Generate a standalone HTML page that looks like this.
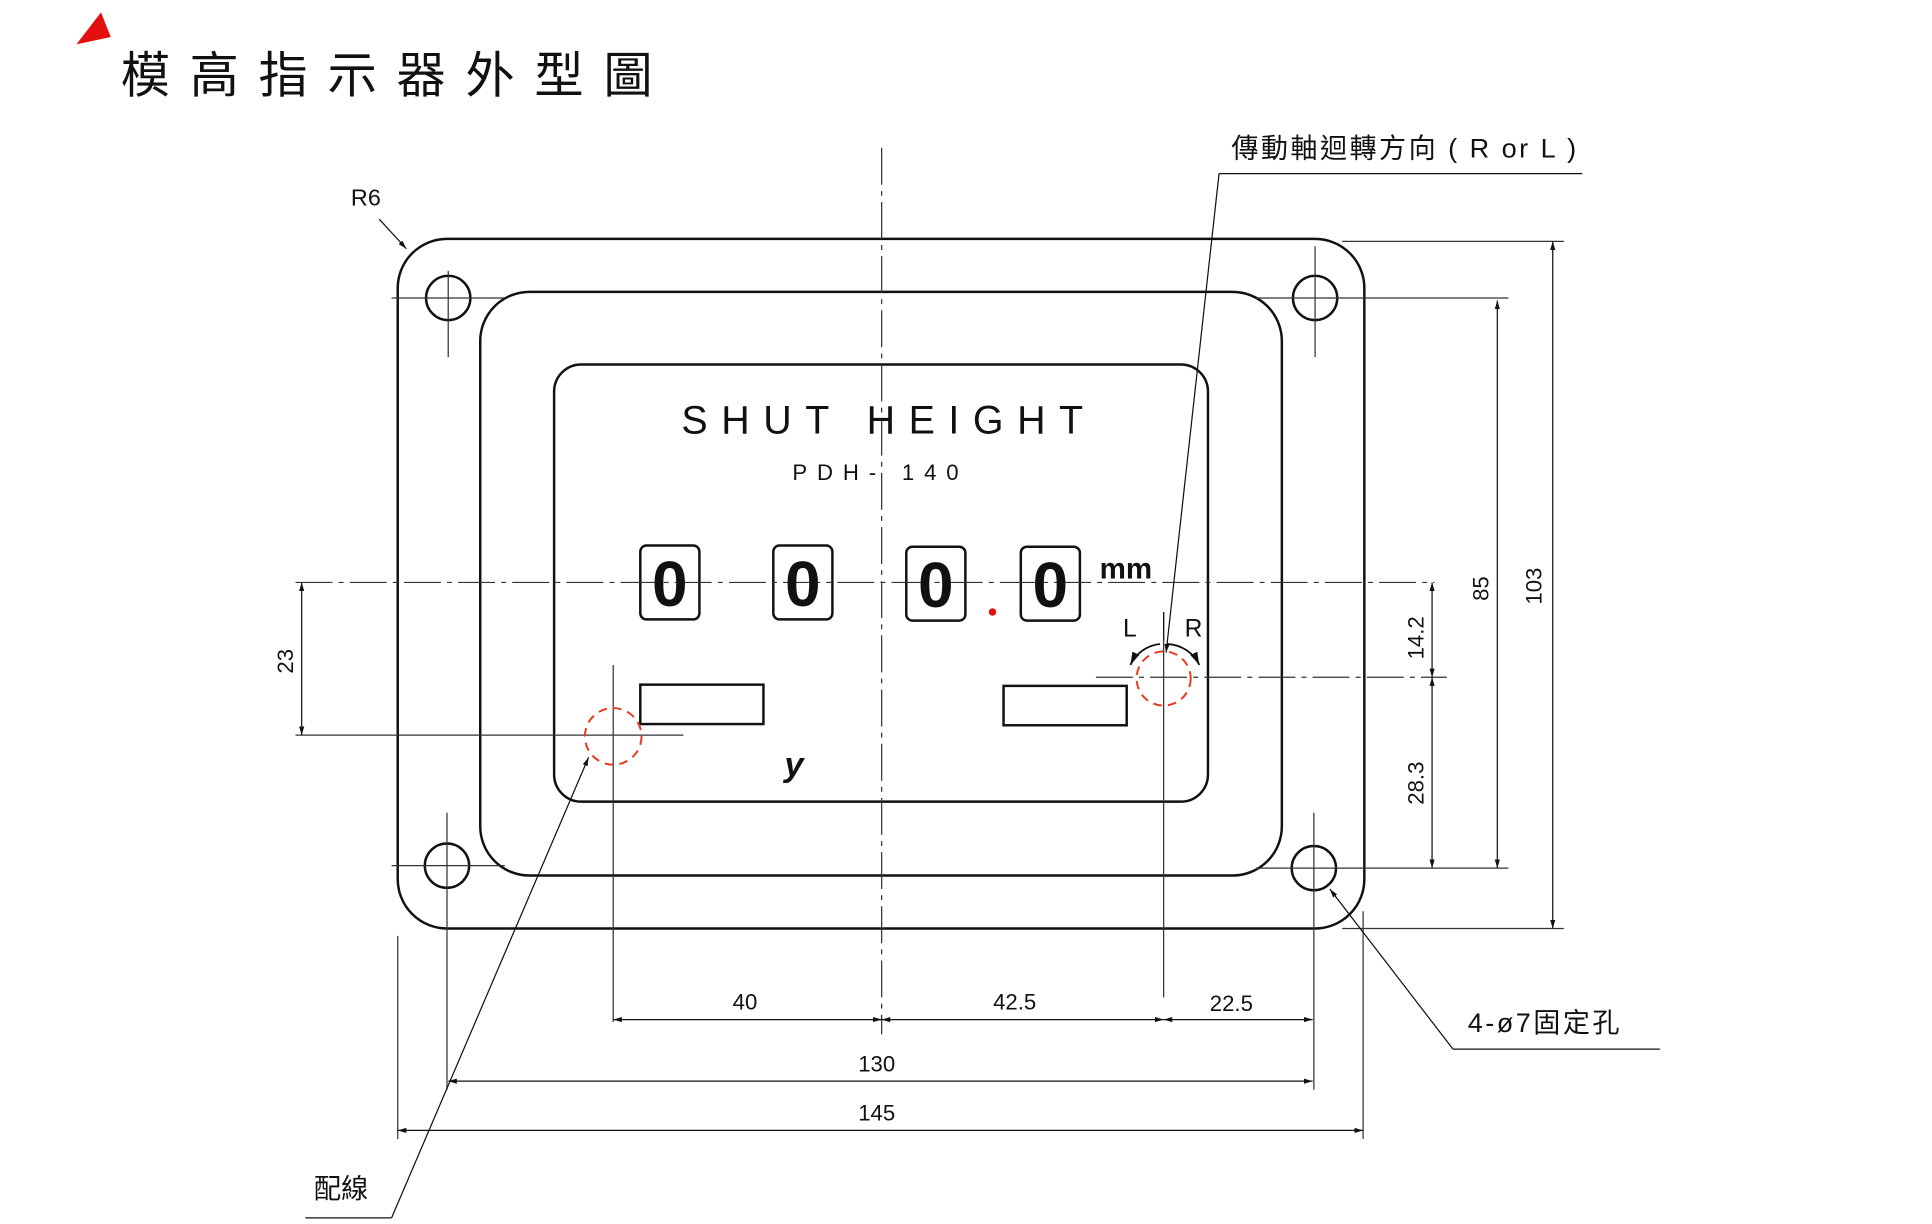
<!DOCTYPE html>
<html><head><meta charset="utf-8"><style>
html,body{margin:0;padding:0;background:#fff;}
svg{display:block;}
text{font-family:"Liberation Sans","Noto Sans CJK TC",sans-serif;fill:#111;}
</style></head><body>
<svg width="1932" height="1224" viewBox="0 0 1569 994" preserveAspectRatio="none" xmlns="http://www.w3.org/2000/svg">
<defs>
<marker id="a" viewBox="0 0 10 10" refX="10" refY="5" markerWidth="7" markerHeight="7" orient="auto-start-reverse"><path d="M0,2 L10,5 L0,8 z" fill="#111"/></marker>
</defs>
<path d="M62,36 L82,10 L90,30 Z" fill="#e41010"/>
<text x="98" y="75" font-size="40" letter-spacing="16" style="font-family:'Noto Sans CJK TC',sans-serif;font-weight:400">模高指示器外型圖</text>

<g fill="none" stroke="#111" stroke-width="2">
<rect x="323" y="194" width="785" height="560" rx="40"/>
<rect x="390" y="237" width="651" height="474" rx="40"/>
<rect x="450" y="296" width="531" height="355" rx="22"/>
<circle cx="364" cy="242" r="18"/><circle cx="1068" cy="242" r="18"/>
<circle cx="363" cy="703" r="18"/><circle cx="1067" cy="705" r="18"/>
<rect x="520" y="443" width="48" height="60" rx="5"/>
<rect x="628" y="443" width="48" height="60" rx="5"/>
<rect x="736" y="444" width="48" height="60" rx="5"/>
<rect x="829" y="444" width="48" height="60" rx="5"/>
<rect x="520" y="556" width="100" height="32"/>
<rect x="815" y="557" width="100" height="32"/>
</g>
<g stroke="#333" stroke-width="1" fill="none">
<line x1="716" y1="120" x2="716" y2="840" stroke-dasharray="30,5,4,5"/>
<line x1="240" y1="473" x2="1165" y2="473" stroke-dasharray="30,5,4,5"/>
<line x1="890" y1="550" x2="1175" y2="550" stroke-dasharray="30,5,4,5"/>
<line x1="945" y1="497" x2="945" y2="810"/>
<line x1="498" y1="540" x2="498" y2="830"/>
<line x1="240" y1="597" x2="555" y2="597"/>
<line x1="364" y1="220" x2="364" y2="290"/><line x1="318" y1="242" x2="410" y2="242"/>
<line x1="1068" y1="200" x2="1068" y2="290"/><line x1="1020" y1="242" x2="1225" y2="242"/>
<line x1="363" y1="660" x2="363" y2="885"/><line x1="318" y1="703" x2="410" y2="703"/>
<line x1="1067" y1="660" x2="1067" y2="885"/><line x1="1020" y1="705" x2="1225" y2="705"/>
<line x1="323" y1="760" x2="323" y2="925"/><line x1="1107" y1="740" x2="1107" y2="925"/>
<line x1="1090" y1="196" x2="1270" y2="196"/><line x1="1090" y1="754" x2="1270" y2="754"/>
</g>
<g stroke="#111" stroke-width="1" marker-start="url(#a)" marker-end="url(#a)">
<line x1="498" y1="828" x2="716" y2="828"/>
<line x1="716" y1="828" x2="945" y2="828"/>
<line x1="945" y1="828" x2="1066" y2="828"/>
<line x1="364" y1="878" x2="1066" y2="878"/>
<line x1="323" y1="918" x2="1107" y2="918"/>
<line x1="245" y1="473" x2="245" y2="597"/>
<line x1="1163" y1="473" x2="1163" y2="550"/>
<line x1="1163" y1="550" x2="1163" y2="705"/>
<line x1="1216" y1="244" x2="1216" y2="705"/>
<line x1="1261" y1="196" x2="1261" y2="754"/>
</g>
<g font-size="18" text-anchor="middle">
<text x="605" y="820">40</text><text x="824" y="820">42.5</text><text x="1000" y="821">22.5</text>
<text x="712" y="870">130</text><text x="712" y="910">145</text>
<text transform="translate(238,537) rotate(-90)">23</text>
<text transform="translate(1156,518) rotate(-90)">14.2</text>
<text transform="translate(1156,636) rotate(-90)">28.3</text>
<text transform="translate(1209,478) rotate(-90)">85</text>
<text transform="translate(1252,476) rotate(-90)">103</text>
</g>
<text x="722" y="352" font-size="32" text-anchor="middle" letter-spacing="11">SHUT HEIGHT</text>
<text x="715" y="390" font-size="18" text-anchor="middle" letter-spacing="8">PDH- 140</text>
<g font-size="52" font-weight="bold" text-anchor="middle">
<text x="544" y="492">0</text><text x="652" y="492">0</text><text x="760" y="493">0</text><text x="853" y="493">0</text>
</g>
<text x="893" y="470" font-size="24" font-weight="bold">mm</text>
<circle cx="806" cy="497" r="3" fill="#e41010"/>
<text x="637" y="630" font-size="28" font-weight="bold" font-style="italic">y</text>
<text x="912" y="517" font-size="20">L</text><text x="962" y="517" font-size="20">R</text>
<path d="M942,523 A30,30 0 0 0 918,540" fill="none" stroke="#111" stroke-width="1.5" marker-end="url(#a)"/>
<path d="M948,523 A30,30 0 0 1 974,540" fill="none" stroke="#111" stroke-width="1.5" marker-end="url(#a)"/>
<line x1="945" y1="497" x2="945" y2="520" stroke="#111"/>
<g fill="none" stroke="#e8391a" stroke-width="1.6" stroke-dasharray="7,5">
<circle cx="498" cy="598" r="23"/><circle cx="945" cy="551" r="22"/>
</g>
<g stroke="#111" stroke-width="1" fill="none">
<line x1="990" y1="141" x2="1285" y2="141"/>
<line x1="990" y1="141" x2="947" y2="530" marker-end="url(#a)"/>
<line x1="248" y1="989" x2="318" y2="989"/>
<line x1="318" y1="989" x2="478" y2="615" marker-end="url(#a)"/>
<line x1="1180" y1="852" x2="1348" y2="852"/>
<line x1="1180" y1="852" x2="1080" y2="722" marker-end="url(#a)"/>
<line x1="308" y1="178" x2="330" y2="202" marker-end="url(#a)"/>
</g>
<text x="1000" y="128" font-size="22" letter-spacing="2">傳動軸迴轉方向 ( R or L )</text>
<text x="255" y="973" font-size="22">配線</text>
<text x="1192" y="838" font-size="22" letter-spacing="2">4-ø7固定孔</text>
<text x="285" y="167" font-size="19">R6</text>
</svg>
</body></html>
